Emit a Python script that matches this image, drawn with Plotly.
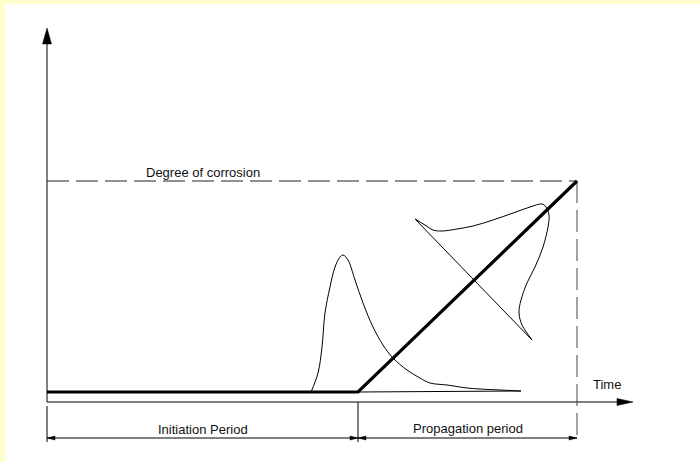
import plotly.graph_objects as go

# schematic units: 1 unit = 10 px, origin at the axes corner
t_init = 31.1          # end of initiation period
t_end = 53.0           # end of propagation period
base = 1.0             # level of the degree-of-corrosion line during initiation
max_degree = 22.1      # degree of corrosion at t_end
x_axis_end = 58.6
y_axis_end = 37.4
dim_y = -3.6
ext_bottom = -4.0

# initiation-time distribution (skewed bell)
dist1_x = [26.4, 27.1, 27.5, 27.8, 28.3, 28.8, 29.3, 29.6, 30.1, 30.8, 31.6, 32.6,
           33.6, 34.6, 36.0, 37.3, 38.3, 40.0, 42.0, 43.3, 45.3, 47.4]
dist1_y = [1.0, 2.9, 5.5, 8.9, 11.5, 13.5, 14.5, 14.7, 14.2, 12.2, 9.9, 7.5,
           5.7, 4.4, 3.2, 2.4, 1.9, 1.7, 1.4, 1.3, 1.2, 1.1]

# degree-of-corrosion distribution at a later time (drawn across the diagonal)
dist2_x = [36.8, 37.8, 38.6, 39.5, 41.0, 42.6, 44.6, 46.6, 48.3, 49.5, 49.9, 50.2,
           50.1, 49.6, 48.8, 48.0, 47.4, 47.2, 47.5, 48.0, 48.5]
dist2_y = [18.3, 17.7, 17.2, 17.1, 17.3, 17.6, 18.2, 18.9, 19.5, 19.8, 19.5, 18.7,
           17.5, 15.5, 13.5, 11.9, 10.2, 8.9, 7.7, 6.9, 6.2]
perp_x = [36.8, 48.5]
perp_y = [18.3, 6.2]

BLACK = '#000000'
fig = go.Figure()


def line(xs, ys, width=1, color=BLACK, dash=None, shape='linear'):
    fig.add_trace(go.Scatter(x=xs, y=ys, mode='lines', hoverinfo='skip',
                             line=dict(color=color, width=width, dash=dash, shape=shape)))


def head(tx, ty, dx, dy, length, half):
    """filled arrowhead; sizes in px, tip at (tx, ty), pointing along (dx, dy)"""
    L, H = length / 10, half / 10
    bx, by = tx - dx * L, ty - dy * L
    px, py = -dy * H, dx * H
    fig.add_trace(go.Scatter(x=[tx, bx + px, bx - px, tx], y=[ty, by + py, by - py, ty],
                             mode='lines', fill='toself', fillcolor=BLACK,
                             line=dict(color=BLACK, width=0.5), hoverinfo='skip'))


# axes
line([0, 0], [0, y_axis_end - 1.4])
head(0, y_axis_end, 0, 1, 16, 4.5)
line([0, x_axis_end - 1.4], [0, 0])
head(x_axis_end, 0, 1, 0, 16, 3.5)

# dashed guides
line([0, t_end], [max_degree, max_degree], color='#222222', dash='22px,7px')
line([t_end, t_end], [max_degree, ext_bottom], color='#444444', dash='22px,7px')

# extension lines and dimension line
line([0, 0], [-0.4, ext_bottom])
line([t_init, t_init], [0, ext_bottom])
line([0, t_end], [dim_y, dim_y])
head(0, dim_y, -1, 0, 8, 2)
head(t_init, dim_y, 1, 0, 8, 2)
head(t_init, dim_y, -1, 0, 8, 2)
head(t_end, dim_y, 1, 0, 8, 2)

# distributions
line([t_init, dist1_x[-1]], [base, dist1_y[-1]])
line(dist1_x, dist1_y, shape='spline')
line(perp_x, perp_y)
line(dist2_x, dist2_y, shape='spline')

# degree of corrosion
line([0, t_init, t_end], [base, base, max_degree], width=3.2)

texts = [
    ('Degree of corrosion', (t_init / 2), max_degree + 0.9),
    ('Time', 56.0, 1.8),
    ('Initiation Period', t_init / 2, -2.7),
    ('Propagation period', (t_init + t_end) / 2, -2.6),
]
for txt, x, y in texts:
    fig.add_annotation(x=x, y=y, text=txt, showarrow=False,
                       font=dict(family='Liberation Sans, Arial', size=13, color='#111111'))

fig.add_shape(type='rect', xref='paper', yref='paper', x0=0, x1=5 / 700, y0=0, y1=1,
              fillcolor='#FFFFCC', line_width=0, layer='below')
fig.add_shape(type='rect', xref='paper', yref='paper', x0=0, x1=1, y0=1 - 4 / 462, y1=1,
              fillcolor='#FFFFCC', line_width=0, layer='below')

fig.update_layout(
    width=700, height=462,
    margin=dict(l=0, r=0, t=0, b=0),
    showlegend=False,
    paper_bgcolor='white', plot_bgcolor='rgba(0,0,0,0)',
    xaxis=dict(range=[-4.7, 65.3], visible=False, fixedrange=True),
    yaxis=dict(range=[-6.0, 40.2], visible=False, fixedrange=True),
)

# page body has a default margin; drop it so the figure fills the window
fig.write_html("out.html", config={'displayModeBar': False},
               post_script="document.body.style.margin='0';"
                           "document.body.style.overflow='hidden';")
